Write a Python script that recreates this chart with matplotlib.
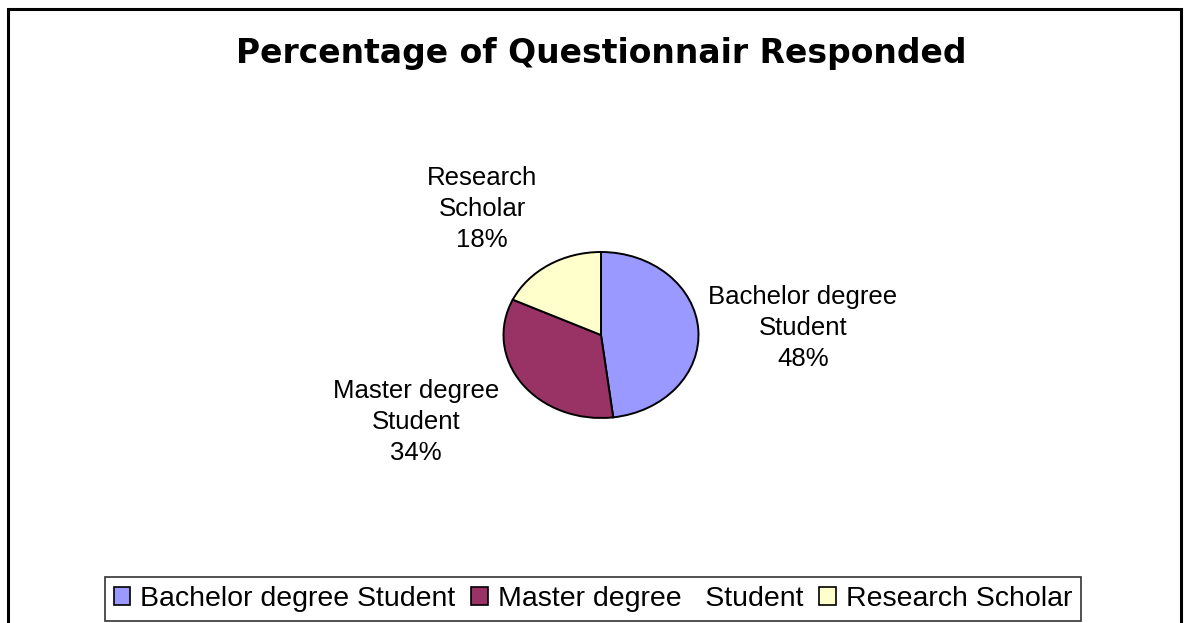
import matplotlib
matplotlib.use('Agg')
import matplotlib.pyplot as plt
import matplotlib.patches as mpatches

plt.rcParams['font.family'] = ['Liberation Sans', 'DejaVu Sans']

groups = ['Bachelor degree\nStudent', 'Master degree\nStudent', 'Research\nScholar']
legend_names = ['Bachelor degree Student', 'Master degree   Student', 'Research Scholar']
shares = [48, 34, 18]
colors = ['#9999FF', '#993366', '#FFFFCC']

W, H = 1189, 623
fig = plt.figure(figsize=(W / 100, H / 100), dpi=100)

# outer chart frame (bottom edge runs off the picture)
frame = mpatches.Rectangle((8 / W, -0.05), (1181 - 8) / W, 1.05 - 9 / H,
                           transform=fig.transFigure, fill=False,
                           edgecolor='black', linewidth=2.2)
fig.patches.append(frame)

fig.text(601 / W, 1 - 54 / H, 'Percentage of Questionnair Responded',
         ha='center', va='center', fontsize=23.8, fontweight='bold',
         family='DejaVu Sans')

# pie is a bit wider than tall in the reference
ax = fig.add_axes([503.5 / W, (H - 418) / H, 195 / W, 166 / H])
wedges, _ = ax.pie(shares, colors=colors, startangle=90, counterclock=False,
                   wedgeprops=dict(edgecolor='black', linewidth=1.4))
ax.set_aspect('auto')
ax.set_xlim(-1.0, 1.0)
ax.set_ylim(-1.0, 1.0)
ax.axis('off')

label_pos = [(803, 328), (416, 422), (482, 209)]
for name, val, (px, py) in zip(groups, shares, label_pos):
    fig.text(px / W, 1 - py / H, f'{name}\n{val}%', ha='center', va='center',
             fontsize=18.5, linespacing=1.37)

handles = [mpatches.Patch(facecolor=c, edgecolor='black', linewidth=1.2, label=n)
           for c, n in zip(colors, legend_names)]
leg = fig.legend(handles=handles, loc='lower center', ncol=3,
                 bbox_to_anchor=(593 / W, 2 / H), fontsize=20.5,
                 handlelength=0.58, handleheight=0.58, handletextpad=0.36,
                 columnspacing=0.55, borderpad=0.32, borderaxespad=0,
                 fancybox=False, frameon=True, edgecolor='black')
leg.get_frame().set_linewidth(1.2)

fig.savefig('out.png', dpi=100)
